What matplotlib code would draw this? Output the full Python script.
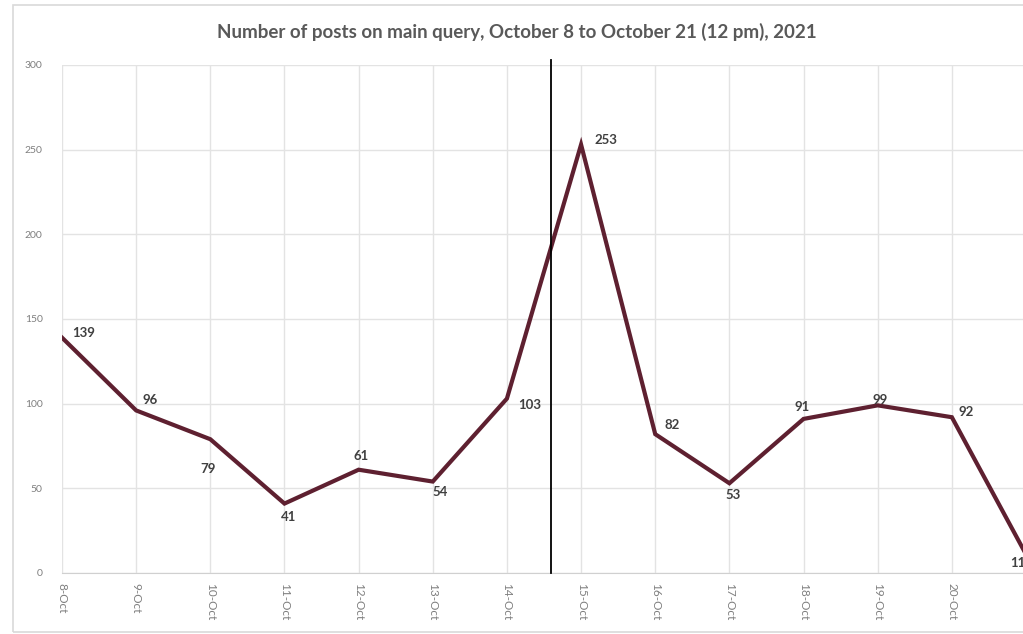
import matplotlib
matplotlib.use("Agg")
import matplotlib.pyplot as plt
from matplotlib.patches import Rectangle

# data
days = ["8-Oct", "9-Oct", "10-Oct", "11-Oct", "12-Oct", "13-Oct", "14-Oct",
        "15-Oct", "16-Oct", "17-Oct", "18-Oct", "19-Oct", "20-Oct", "21-Oct"]
posts = [139, 96, 79, 41, 61, 54, 103, 253, 82, 53, 91, 99, 92, 11]
# label offsets in pixels (dx, dy)
offsets = [(22, 5), (14, 10), (-2, -30), (4, -13), (3, 14), (7, -10), (23, -6),
           (25, 5), (17, 9), (4, -12), (-1, 12), (2, 5), (14, 5), (-8, -9)]
marker_pos = 6.6  # vertical reference line between 14-Oct and 15-Oct

W, H = 1023, 634
fig = plt.figure(figsize=(W / 100, H / 100), dpi=100)
fig.patch.set_facecolor("white")

# outer chart frame (cropped on the right)
fig.patches.append(Rectangle((13 / W, 1 - 632 / H), 1.2, (632 - 5) / H,
                             transform=fig.transFigure, fill=False,
                             edgecolor="#D9D9D9", lw=1.2))

left, right, top, bottom = 62, 1026, 65, 573
ax = fig.add_axes([left / W, 1 - bottom / H, (right - left) / W, (bottom - top) / H])

x = list(range(len(days)))
ax.plot(x, posts, color="#5E2030", lw=3, solid_joinstyle="miter", zorder=3)

for xi, v, (dx, dy) in zip(x, posts, offsets):
    ax.annotate(str(v), (xi, v), xytext=(dx, dy), textcoords="offset pixels",
                ha="center", va="center", fontsize=9.5, fontweight="bold",
                color="#404040", family="Lato", annotation_clip=False)

ax.axvline(marker_pos, ymin=0, ymax=1.01, color="black", lw=1.3, clip_on=False, zorder=4)

ax.set_xlim(0, len(days) - 1)
ax.set_ylim(0, 300)
ax.set_yticks(range(0, 301, 50))
ax.set_xticks(x)
ax.set_xticklabels(days, rotation=270, fontsize=8.5, color="#7F7F7F", family="Lato")
ax.tick_params(axis="y", labelsize=7.5, colors="#7F7F7F", length=0, pad=14)
ax.tick_params(axis="x", length=0, pad=7)
for lab in ax.get_yticklabels():
    lab.set_family("Lato")

ax.grid(True, color="#E3E3E3", lw=1)
ax.set_axisbelow(True)
for s in ["top", "right", "left"]:
    ax.spines[s].set_visible(False)
ax.spines["bottom"].set_color("#D0D0D0")

fig.text(517 / W, 1 - 32 / H,
         "Number of posts on main query, October 8 to October 21 (12 pm), 2021",
         ha="center", va="center", fontsize=13.5, fontweight="bold",
         color="#595959", family="Lato")

fig.savefig("out.png", dpi=100)
